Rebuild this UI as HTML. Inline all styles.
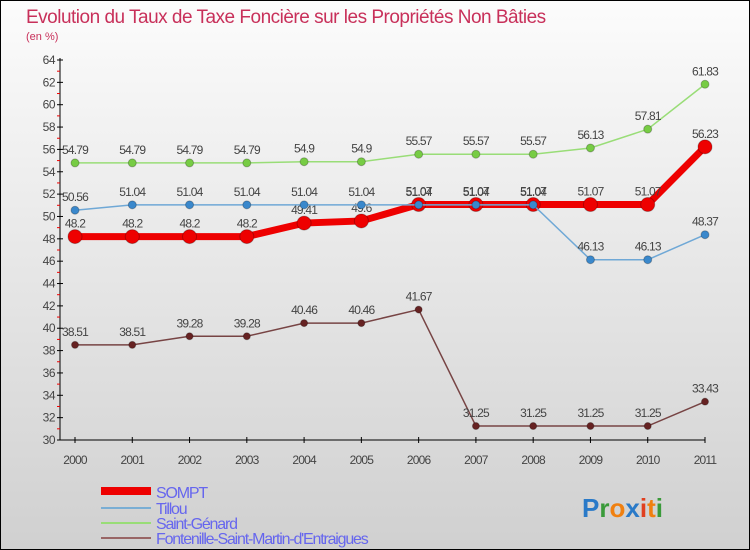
<!DOCTYPE html>
<html><head><meta charset="utf-8"><style>
body{margin:0;}
svg{display:block;font-family:"Liberation Sans",sans-serif;}
</style></head><body>
<svg id="c" width="750" height="550" viewBox="0 0 750 550">
<defs><linearGradient id="bg" x1="0" y1="0" x2="0" y2="1"><stop offset="0" stop-color="#fcfcfc"/><stop offset="1" stop-color="#d0d0d0"/></linearGradient></defs>
<rect x="0.5" y="0.5" width="749" height="549" fill="url(#bg)" stroke="#000"/>
<text x="26" y="23" font-size="19" fill="#c8305a" letter-spacing="-0.5">Evolution du Taux de Taxe Foncière sur les Propriétés Non Bâties</text>
<text x="26" y="40" font-size="11" fill="#c8305a">(en %)</text>
<g id="axes"></g><g id="series"></g>
<g>
<rect x="101" y="487" width="50" height="8" fill="#e00"/>
<text x="156" y="498" font-size="16" fill="#6666ee" letter-spacing="-1.2">SOMPT</text>
<rect x="101" y="507" width="50" height="2" fill="#7aaed4"/>
<text x="156" y="514" font-size="16" fill="#6666ee" letter-spacing="-1.2">Tillou</text>
<rect x="101" y="522" width="50" height="2" fill="#99dd77"/>
<text x="156" y="529" font-size="16" fill="#6666ee" letter-spacing="-1.2">Saint-Génard</text>
<rect x="101" y="537" width="50" height="2" fill="#996666"/>
<text x="156" y="544" font-size="16" fill="#6666ee" letter-spacing="-1.2">Fontenille-Saint-Martin-d'Entraigues</text>
</g>
<text x="582" y="517" font-size="26" font-weight="bold"><tspan fill="#2a7ac8">P</tspan><tspan fill="#3a9a3a">r</tspan><tspan fill="#f08010">o</tspan><tspan fill="#2a7ac8">x</tspan><tspan fill="#e04020">i</tspan><tspan fill="#f08010">t</tspan><tspan fill="#3a9a3a">i</tspan></text>
</svg>
<script>
const years=[2000,2001,2002,2003,2004,2005,2006,2007,2008,2009,2010,2011];
const sompt=[48.2,48.2,48.2,48.2,49.41,49.6,51.07,51.07,51.07,51.07,51.07,56.23];
const tillou=[50.56,51.04,51.04,51.04,51.04,51.04,51.04,51.04,51.04,46.13,46.13,48.37];
const genard=[54.79,54.79,54.79,54.79,54.9,54.9,55.57,55.57,55.57,56.13,57.81,61.83];
const fonten=[38.51,38.51,39.28,39.28,40.46,40.46,41.67,31.25,31.25,31.25,31.25,33.43];
const yTicks=[30,32,34,36,38,40,42,44,46,48,50,52,54,56,58,60,62,64];
const NS="http://www.w3.org/2000/svg";
const X=i=>75+i*(630/11);
const Y=v=>440-(v-30)*(380/34);
function mk(tag,attrs,parent){const e=document.createElementNS(NS,tag);for(const k in attrs)e.setAttribute(k,attrs[k]);parent.appendChild(e);return e;}
const ax=document.getElementById('axes');
const xl=mk('line',{x1:60,y1:440,x2:X(11),y2:440,stroke:'#000'},ax);


const yl=mk('line',{x1:60,y1:440,x2:60,y2:Y(64)-2,stroke:'#000'},ax);


yTicks.forEach(v=>{
  mk('line',{x1:57,y1:Y(v),x2:63,y2:Y(v),stroke:'#000'},ax);
  if(v<64)mk('line',{x1:57,y1:Y(v+1),x2:60,y2:Y(v+1),stroke:'#e00'},ax);
  const t=mk('text',{x:55,y:Y(v)+4,'font-size':12,'text-anchor':'end',fill:'#444','letter-spacing':'-0.5'},ax);
  t.textContent=v;
  
  
});
years.forEach((y,i)=>{
  mk('line',{x1:X(i),y1:437,x2:X(i),y2:443,stroke:'#000'},ax);
  const t=mk('text',{x:X(i),y:464,'font-size':12,'text-anchor':'middle',fill:'#444','letter-spacing':'-0.8'},ax);
  t.textContent=y;
  
  
});
const sg=document.getElementById('series');
function series(vals,color,dot,w,r,name){
  const g=mk('g',{},sg);
  
  
  const p=mk('polyline',{points:vals.map((v,i)=>X(i)+','+Y(v)).join(' '),fill:'none',stroke:color,'stroke-width':w},g);
  
  
  vals.forEach((v,i)=>{
    const c=mk('circle',{cx:X(i),cy:Y(v),r:r,fill:dot,stroke:'rgba(0,0,0,0.25)','stroke-width':1},g);
    
    
    const t=mk('text',{x:X(i),y:Y(v)-9,'font-size':12,'text-anchor':'middle',fill:'#444','letter-spacing':'-0.8'},g);
    t.textContent=v;
    
    
  });
}
series(genard,'#99dd77','#77cc44',1.5,4,'saint-genard');
series(fonten,'#774444','#662222',1.5,3.5,'fontenille');
series(sompt,'#ee0000','#ee0000',7,7,'sompt');
series(tillou,'#6fa8d6','#3a88cc',1.5,4,'tillou');
</script>
</body></html>
